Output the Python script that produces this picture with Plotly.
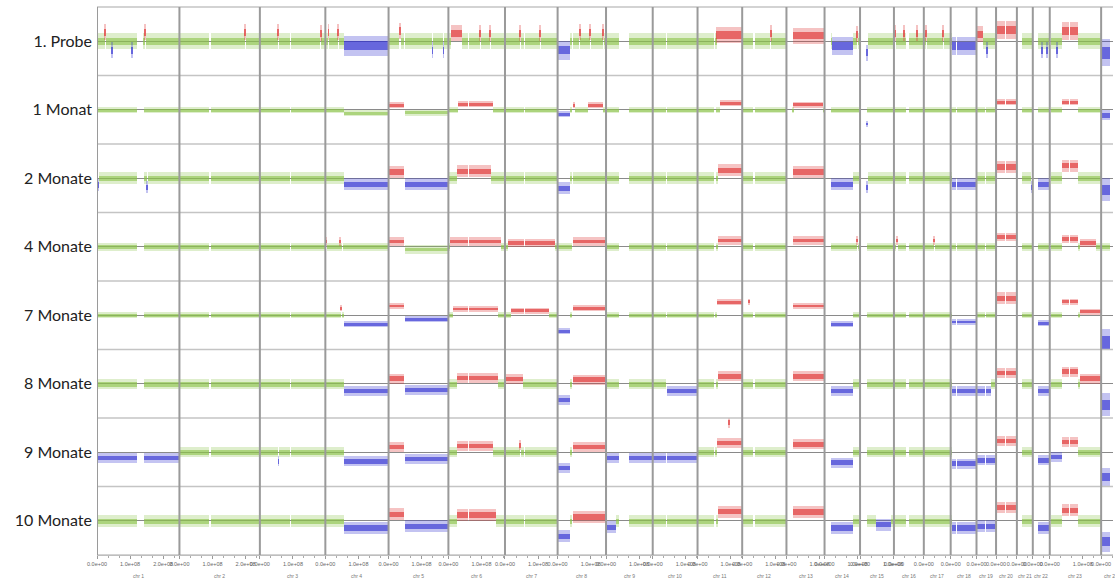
import plotly.graph_objects as go
from plotly.subplots import make_subplots

# ---------------- data ----------------
SAMPLES = ["1. Probe", "1 Monat", "2 Monate", "4 Monate",
           "7 Monate", "8 Monate", "9 Monate", "10 Monate"]
# typical half-spread of the probe cloud per sample (log2 ratio units)
NOISE = [0.35, 0.13, 0.26, 0.18, 0.13, 0.22, 0.22, 0.26]

CHROM_LABELS = [f"chr {i}" for i in range(1, 25)]
CHROM_LEN_MB = [249.25, 243.2, 198.0, 191.15, 180.9, 171.1, 159.1, 146.4,
                141.2, 135.5, 135.0, 133.85, 115.2, 107.3, 102.5, 90.35,
                81.2, 78.1, 59.1, 63.0, 48.1, 51.3, 155.3, 59.4]
# probed regions per chromosome (Mb)
PROBED = [
    [(0.8, 121), (142, 249)], [(0.5, 90), (96, 243)], [(0.5, 90), (94, 198)],
    [(0.5, 49), (52, 191)], [(0.5, 47), (50, 180.5)], [(0.5, 58), (62, 171)],
    [(0.5, 58), (62, 159)], [(0.5, 44), (47, 146)], [(0.5, 39), (70, 141)],
    [(0.5, 39), (43, 135)], [(0.5, 51), (55, 135)], [(0.5, 34), (38, 133.5)],
    [(19.5, 115)], [(19.5, 107)], [(20.5, 102)], [(0.5, 35), (46.5, 90)],
    [(0.5, 24), (26, 81)], [(0.5, 15.5), (18.5, 78)], [(0.5, 24.5), (28, 59)],
    [(0.5, 26), (30, 63)], [(15, 48)], [(17, 51)], [(2.7, 58), (62, 155)],
    [(2.7, 28)],
]

# events: (chromosome, start Mb, end Mb, level, state[, spread])
EV_PROBE = [
    (1, 23, 26, 0.4, "G"), (1, 144, 147, 0.4, "G"), (1, 44, 46, -0.4, "L"),
    (1, 105, 107, -0.4, "L"), (2, 197, 200, 0.4, "G"), (3, 54, 57, 0.4, "G"),
    (3, 183, 186, 0.35, "G"), (4, 8, 11, 0.4, "G"), (4, 38, 41, 0.4, "G"),
    (4, 55, 191, -0.2, "L", 0.45), (5, 33, 37, 0.45, "G"), (5, 132, 134, -0.4, "L"),
    (5, 165, 167, -0.4, "L"), (6, 8, 40, 0.35, "G"), (6, 95, 98, 0.35, "G"),
    (6, 125, 128, 0.35, "G"), (7, 45, 48, 0.35, "G"), (7, 105, 108, 0.35, "G"),
    (8, 0.5, 36, -0.4, "L", 0.4), (8, 66, 69, 0.4, "G"), (8, 97, 100, 0.4, "G"),
    (8, 136, 139, 0.4, "G"), (11, 56, 135, 0.27, "G"), (12, 85, 88, 0.35, "G"),
    (13, 19.5, 115, 0.24, "G"), (14, 22, 86, -0.2, "L", 0.4), (14, 98, 102, 0.3, "G"),
    (15, 20.5, 23, -0.5, "L"), (16, 3, 6, 0.35, "G"), (16, 29, 32, 0.35, "G"),
    (16, 69, 71, 0.35, "G"), (17, 6, 9, 0.35, "G"), (17, 57, 60, 0.35, "G"),
    (18, 3, 78, -0.22, "L", 0.4), (19, 0.5, 20, 0.3, "G"), (19, 30, 33, -0.4, "L"),
    (20, 0.5, 63, 0.48, "G", 0.4), (22, 27, 29, -0.4, "L"), (22, 42, 44, -0.4, "L"),
    (23, 21, 23, -0.4, "L"), (23, 37, 86, 0.44, "G", 0.4),
    (24, 2.7, 28, -0.5, "L", 0.6),
]
EV_M1 = [
    (4, 55, 191, -0.13, "N"), (5, 0.5, 47, 0.22, "G"), (5, 50, 180.5, -0.1, "N"),
    (6, 28, 136, 0.26, "G"), (8, 0.5, 36, -0.18, "L"), (8, 44, 53, 0.22, "G"),
    (8, 93, 138, 0.22, "G"), (11, 67, 135, 0.3, "G"), (13, 20, 111, 0.25, "G"),
    (15, 20.5, 22, -0.6, "L"), (20, 0.5, 63, 0.35, "G"), (23, 37, 86, 0.35, "G"),
    (24, 2.7, 28, -0.22, "L", 0.22),
]
EV_M2 = [
    (1, 3, 6, -0.3, "L"), (1, 150, 153, -0.4, "L"), (4, 55, 191, -0.26, "L"),
    (5, 0.5, 47, 0.28, "G"), (5, 50, 180.5, -0.26, "L"), (6, 25, 130, 0.3, "G"),
    (8, 0.5, 36, -0.44, "L"), (11, 62, 135, 0.35, "G"), (13, 19.5, 115, 0.27, "G"),
    (14, 19.5, 86, -0.26, "L"), (15, 20.5, 23, -0.4, "L"), (18, 5, 78, -0.26, "L"),
    (19, 25, 28, -0.5, "L"), (20, 0.5, 63, 0.5, "G"), (21, 44, 48, -0.4, "L"),
    (22, 17, 51, -0.26, "L"), (23, 37, 86, 0.55, "G"), (24, 2.7, 28, -0.5, "L", 0.5),
]
EV_M4 = [
    (4, 1, 4, 0.25, "G"), (4, 44, 47, 0.25, "G"), (5, 0.5, 47, 0.25, "G"),
    (5, 50, 180.5, -0.1, "N"), (6, 5, 160, 0.25, "G"), (7, 8, 150, 0.2, "G"),
    (8, 44, 146, 0.25, "G"), (11, 62, 135, 0.3, "G"), (13, 19.5, 115, 0.3, "G"),
    (14, 97, 100, 0.3, "G"), (16, 5, 12, 0.3, "G"), (17, 30, 35, 0.3, "G"),
    (20, 0.5, 63, 0.45, "G"), (23, 37, 86, 0.35, "G"), (23, 90, 140, 0.2, "G"),
]
EV_M7 = [
    (4, 47, 49, 0.3, "G"), (4, 55, 191, -0.4, "L"), (5, 0.5, 47, 0.4, "G"),
    (5, 50, 180.5, -0.18, "L"), (6, 15, 150, 0.28, "G"), (7, 18, 132, 0.2, "G"),
    (8, 0.5, 36, -0.7, "L"), (8, 44, 146, 0.3, "G"), (11, 60, 135, 0.57, "G"),
    (12, 20, 22, 0.6, "G"), (13, 19.5, 115, 0.4, "G"), (14, 19.5, 86, -0.4, "L"),
    (18, 5, 78, -0.3, "L"), (20, 0.5, 63, 0.75, "G", 0.25), (22, 17, 51, -0.35, "L"),
    (23, 37, 86, 0.6, "G"), (23, 90, 155, 0.15, "G"), (24, 2.7, 28, -1.2, "L", 0.6),
]
EV_M8 = [
    (4, 55, 191, -0.3, "L"), (5, 0.5, 47, 0.25, "G"), (5, 50, 180.5, -0.26, "L"),
    (6, 25, 150, 0.28, "G"), (7, 0.5, 55, 0.22, "G"), (8, 0.5, 36, -0.7, "L"),
    (8, 44, 146, 0.2, "G"), (10, 43, 135, -0.3, "L"), (11, 62, 135, 0.35, "G"),
    (13, 19.5, 115, 0.35, "G"), (14, 19.5, 86, -0.3, "L"), (18, 5, 78, -0.3, "L"),
    (19, 0.5, 45, -0.3, "L"), (20, 0.5, 63, 0.5, "G"), (22, 17, 51, -0.3, "L"),
    (23, 37, 86, 0.55, "G"), (23, 90, 155, 0.25, "G"), (24, 2.7, 28, -0.9, "L", 0.5),
]
EV_M9 = [
    (1, 0.5, 249, -0.26, "L"), (3, 55, 57, -0.4, "L"), (4, 55, 191, -0.4, "L"),
    (5, 0.5, 47, 0.22, "G"), (5, 50, 180.5, -0.3, "L"), (6, 25, 135, 0.28, "G"),
    (7, 45, 48, 0.3, "G"), (8, 0.5, 36, -0.7, "L"), (8, 44, 146, 0.22, "G"),
    (9, 0.5, 141, -0.26, "L"), (10, 0.5, 135, -0.26, "L"), (11, 60, 135, 0.4, "G"),
    (11, 95, 97, 1.3, "G"), (13, 19.5, 115, 0.35, "G"), (14, 19.5, 86, -0.45, "L"),
    (18, 5, 78, -0.5, "L"), (19, 0.5, 59, -0.35, "L"), (20, 0.5, 63, 0.5, "G"),
    (22, 17, 51, -0.35, "L"), (23, 2.7, 37, -0.2, "L"), (23, 37, 86, 0.45, "G"),
    (24, 2.7, 28, -1.1, "L", 0.4),
]
EV_M10 = [
    (4, 55, 191, -0.3, "L"), (5, 0.5, 47, 0.3, "G"), (5, 50, 180.5, -0.22, "L"),
    (6, 25, 145, 0.28, "G"), (8, 0.5, 36, -0.66, "L"), (8, 44, 146, 0.18, "G"),
    (9, 0.5, 30, -0.26, "L"), (11, 62, 135, 0.42, "G"), (13, 19.5, 115, 0.4, "G"),
    (14, 19.5, 86, -0.3, "L"), (15, 48, 95, -0.15, "L"), (18, 5, 78, -0.3, "L"),
    (19, 0.5, 59, -0.22, "L"), (20, 0.5, 63, 0.6, "G"), (22, 17, 51, -0.3, "L"),
    (23, 37, 86, 0.48, "G"), (24, 2.7, 28, -0.9, "L", 0.45),
]
EVENTS = [EV_PROBE, EV_M1, EV_M2, EV_M4, EV_M7, EV_M8, EV_M9, EV_M10]

X_MAX_MB = 3072  # visible part of the genome axis (chr 24 is cut off)

# ---------------- helpers ----------------
OFFSETS = []
acc = 0.0
for L in CHROM_LEN_MB:
    OFFSETS.append(acc)
    acc += L

COLORS = {"N": "#8cc34a", "G": "#de2a2a", "L": "#2b2bd0"}


def build_segments(events):
    segs = []
    for ci in range(len(CHROM_LEN_MB)):
        evs = [e for e in events if e[0] == ci + 1]
        for a, b in PROBED[ci]:
            pieces = []
            for e in evs:
                s, t = max(a, e[1]), min(b, e[2])
                if t > s:
                    pieces.append((s, t, e[3], e[4], e[5] if len(e) > 5 else None))
            cur = a
            for s, t, *_ in sorted(pieces):
                if s > cur:
                    pieces.append((cur, s, 0.0, "N", None))
                cur = max(cur, t)
            if cur < b:
                pieces.append((cur, b, 0.0, "N", None))
            for p in pieces:
                segs.append((ci,) + p)
    return segs


n = len(SAMPLES)
fig = make_subplots(rows=n, cols=1, shared_xaxes=True, vertical_spacing=0)

for r in range(n):
    segs = build_segments(EVENTS[r])
    for state in ["N", "G", "L"]:
        ss = [s for s in segs if s[4] == state]
        if not ss:
            continue
        for mult, op in [(1.0, 0.28), (0.45, 0.6)]:
            xs, ws, bs, hs = [], [], [], []
            for ci, s, t, lvl, _, spr in ss:
                half = (spr if spr is not None else NOISE[r]) * mult
                xs.append(OFFSETS[ci] + (s + t) / 2)
                ws.append(max(t - s, 1.2))
                bs.append(lvl - half)
                hs.append(2 * half)
            fig.add_trace(go.Bar(x=xs, y=hs, base=bs, width=ws,
                                 marker=dict(color=COLORS[state], line=dict(width=0)),
                                 opacity=op, showlegend=False, hoverinfo="skip"),
                          row=r + 1, col=1)

# y axes: sample labels
for r in range(n):
    fig.update_yaxes(range=[-1.5, 1.5], showgrid=False, zeroline=True,
                     zerolinecolor="#8a8a8a", zerolinewidth=1,
                     tickmode="array", tickvals=[0], ticktext=[SAMPLES[r]],
                     ticks="", ticklabelstandoff=4,
                     tickfont=dict(family="Lato, Open Sans, sans-serif",
                                   size=16, color="#222"),
                     showline=False, fixedrange=True, row=r + 1, col=1)

# x axes
tickvals, ticktext, minor_vals = [], [], []
for ci, L in enumerate(CHROM_LEN_MB):
    k = 0
    while k * 100 <= L:
        tickvals.append(OFFSETS[ci] + k * 100)
        ticktext.append(f"{k:.1f}e+{'00' if k == 0 else '08'}")
        k += 1
    m = 1
    while m * 100 / 3 <= L:
        if m % 3:
            minor_vals.append(OFFSETS[ci] + m * 100 / 3)
        m += 1

for r in range(n):
    fig.update_xaxes(range=[0, X_MAX_MB], showgrid=False, zeroline=False,
                     showline=False, showticklabels=False, ticks="",
                     row=r + 1, col=1)
fig.update_xaxes(showticklabels=True, tickmode="array", tickvals=tickvals,
                 ticktext=ticktext, ticks="outside", ticklen=3, tickcolor="#999",
                 tickfont=dict(size=5.5, color="#666", family="Arial"),
                 tickangle=0,
                 minor=dict(tickmode="array", tickvals=minor_vals, ticks="outside",
                            ticklen=2, tickcolor="#aaa"),
                 showline=True, linecolor="#aaa", linewidth=1,
                 row=n, col=1)

shapes = []
# row separators
for k in range(n + 1):
    shapes.append(dict(type="line", xref="paper", yref="paper", x0=0, x1=1,
                       y0=k / n, y1=k / n, line=dict(color="#c4c4c4", width=1.5)))
# chromosome boundaries
for ci in range(len(CHROM_LEN_MB)):
    shapes.append(dict(type="line", xref="x", yref="paper", x0=OFFSETS[ci],
                       x1=OFFSETS[ci], y0=0, y1=1,
                       line=dict(color="#9a9a9a", width=2)))

annotations = []
for ci, L in enumerate(CHROM_LEN_MB):
    annotations.append(dict(x=OFFSETS[ci] + L / 2, y=-0.038, xref="x", yref="paper",
                            text=CHROM_LABELS[ci], showarrow=False,
                            font=dict(size=5, color="#777", family="Arial"),
                            yanchor="middle"))

fig.update_layout(width=1115, height=583, barmode="overlay", bargap=0,
                  margin=dict(l=97, r=2, t=7, b=28),
                  plot_bgcolor="white", paper_bgcolor="white",
                  shapes=shapes, annotations=annotations, showlegend=False)

fig.write_html("out.html")
